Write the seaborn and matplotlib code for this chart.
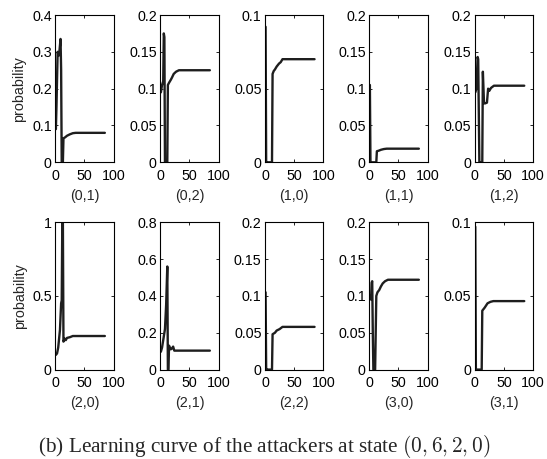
import numpy as np
import pandas as pd
import matplotlib
matplotlib.use("Agg")
import matplotlib.pyplot as plt
import seaborn as sns
from matplotlib.ticker import FormatStrFormatter

# ---- data ----
states = ["(0,1)", "(0,2)", "(1,0)", "(1,1)", "(1,2)",
          "(2,0)", "(2,1)", "(2,2)", "(3,0)", "(3,1)"]

x_01 = [1, 2, 4, 6, 7, 9, 10, 11, 12, 13, 14, 17, 20, 25, 30, 35, 85]
y_01 = [0.09, 0.15, 0.30, 0.29, 0.30, 0.335, 0.25, 0.0, 0.0, 0.0, 0.065, 0.068, 0.072, 0.076, 0.079, 0.08, 0.08]

x_02 = [1, 3, 5, 6, 7, 8, 9, 12, 13, 15, 18, 20, 23, 27, 32, 85]
y_02 = [0.095, 0.105, 0.11, 0.175, 0.17, 0.0, 0.0, 0.0, 0.105, 0.108, 0.112, 0.115, 0.12, 0.123, 0.125, 0.125]

x_10 = [1, 2, 3, 12, 13, 15, 17, 20, 24, 27, 30, 85]
y_10 = [0.092, 0.0, 0.0, 0.0, 0.06, 0.062, 0.063, 0.065, 0.067, 0.068, 0.07, 0.07]

x_11 = [1, 2, 3, 12, 13, 17, 20, 25, 30, 85]
y_11 = [0.105, 0.0, 0.0, 0.0, 0.015, 0.016, 0.017, 0.018, 0.0185, 0.0185]

x_12 = [1, 3, 5, 6, 8, 9, 13, 14, 16, 18, 21, 23, 25, 28, 33, 85]
y_12 = [0.095, 0.1, 0.143, 0.14, 0.0, 0.0, 0.0, 0.123, 0.08, 0.08, 0.081, 0.1, 0.097, 0.101, 0.104, 0.104]

x_20 = [1, 3, 5, 8, 10, 11, 12, 13, 14, 16, 18, 20, 25, 30, 85]
y_20 = [0.1, 0.11, 0.15, 0.27, 0.45, 0.47, 1.0, 1.0, 0.19, 0.21, 0.2, 0.215, 0.22, 0.228, 0.228]

x_21 = [1, 3, 5, 8, 10, 12, 13, 14, 15, 16, 18, 20, 22, 24, 85]
y_21 = [0.097, 0.12, 0.16, 0.22, 0.35, 0.56, 0.0, 0.0, 0.13, 0.12, 0.11, 0.115, 0.125, 0.103, 0.103]

x_22 = [1, 2, 3, 12, 13, 17, 20, 25, 30, 85]
y_22 = [0.105, 0.0, 0.0, 0.0, 0.048, 0.05, 0.053, 0.055, 0.058, 0.058]

x_30 = [1, 3, 4, 5, 6, 7, 10, 12, 14, 17, 20, 23, 27, 32, 85]
y_30 = [0.1, 0.095, 0.118, 0.12, 0.05, 0.0, 0.0, 0.1, 0.105, 0.108, 0.113, 0.117, 0.12, 0.122, 0.122]

x_31 = [1, 2, 3, 12, 13, 17, 22, 27, 32, 85]
y_31 = [0.097, 0.0, 0.0, 0.0, 0.04, 0.042, 0.045, 0.046, 0.0465, 0.0465]

xs = [x_01, x_02, x_10, x_11, x_12, x_20, x_21, x_22, x_30, x_31]
ys = [y_01, y_02, y_10, y_11, y_12, y_20, y_21, y_22, y_30, y_31]

y_tops = [0.4, 0.2, 0.1, 0.2, 0.2, 1.0, 0.8, 0.2, 0.2, 0.1]
y_tick_sets = [
    [0, 0.1, 0.2, 0.3, 0.4],
    [0, 0.05, 0.1, 0.15, 0.2],
    [0, 0.05, 0.1],
    [0, 0.05, 0.1, 0.15, 0.2],
    [0, 0.05, 0.1, 0.15, 0.2],
    [0, 0.5, 1],
    [0, 0.2, 0.4, 0.6, 0.8],
    [0, 0.05, 0.1, 0.15, 0.2],
    [0, 0.05, 0.1, 0.15, 0.2],
    [0, 0.05, 0.1],
]
x_ticks = [0, 50, 100]
caption = "(b) Learning curve of the attackers at state "
caption_math = r"$(0,6,2,0)$"

# ---- style ----
sns.set_style("ticks")
plt.rcParams["font.family"] = ["Liberation Sans", "DejaVu Sans"]
plt.rcParams["mathtext.fontset"] = "cm"

W, H = 547, 459
fig = plt.figure(figsize=(W / 100, H / 100), dpi=100)

lefts = [55.3, 160.3, 265.0, 369.3, 474.7]
aw = 58.3
tops = [15.0, 222.3]
ah = 147.3

FS = 10.3
for i in range(10):
    r, c = divmod(i, 5)
    ax = fig.add_axes([lefts[c] / W, 1 - (tops[r] + ah) / H, aw / W, ah / H])
    df = pd.DataFrame({"iteration": xs[i], "probability": ys[i]})
    sns.lineplot(data=df, x="iteration", y="probability", ax=ax,
                 color="#1e1e1e", linewidth=1.7, sort=False)
    ax.set_xlim(0, 100)
    ax.set_ylim(0, y_tops[i])
    ax.set_xticks(x_ticks)
    ax.set_yticks(y_tick_sets[i])
    ax.yaxis.set_major_formatter(FormatStrFormatter("%g"))
    ax.tick_params(direction="in", length=2.5, width=0.6, labelsize=FS,
                   top=True, right=True, pad=2.5, colors="black")
    ax.tick_params(axis="x", pad=4.5)
    for s in ax.spines.values():
        s.set_linewidth(0.8)
        s.set_color("black")
    ax.set_xlabel(states[i], fontsize=FS, labelpad=4.5)
    if c == 0:
        ax.set_ylabel("probability", fontsize=FS, labelpad=4)
    else:
        ax.set_ylabel("")

fig.text(264.5 / W, 1 - 447 / H, caption + caption_math, ha="center", va="center",
         fontsize=15.3, family=["Liberation Serif", "DejaVu Serif"])

fig.savefig("out.png", dpi=100)
